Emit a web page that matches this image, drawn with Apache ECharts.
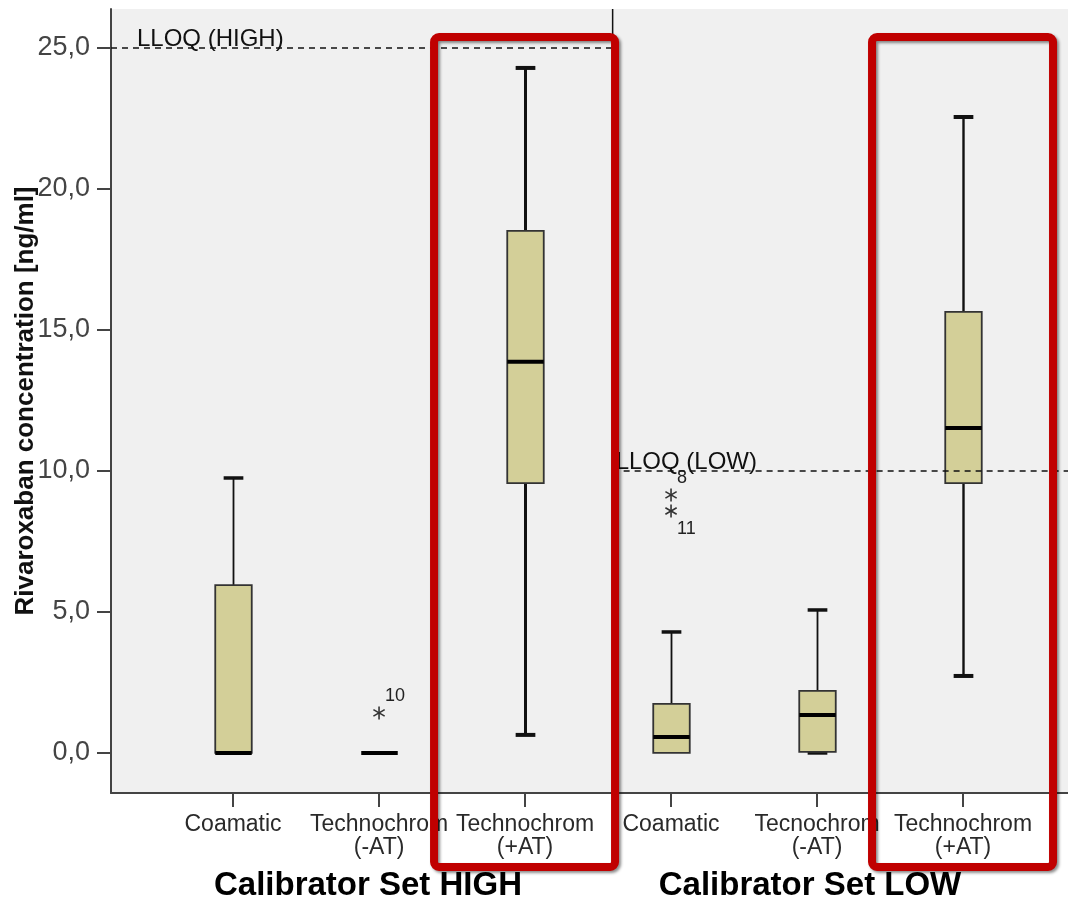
<!DOCTYPE html>
<html>
<head>
<meta charset="UTF-8">
<title>Rivaroxaban concentration</title>
<script src="https://cdn.jsdelivr.net/npm/echarts@6/dist/echarts.min.js"></script>
<style>
    html, body { margin: 0; padding: 0; background: #fff; }
    #main { width: 1068px; height: 901px; }
</style>
</head>
<body>
<div id="main"></div>
<script>
    // categories along the x axis (index 0..5)
    var categories = ['Coamatic', 'Technochrom\n(-AT)', 'Technochrom\n(+AT)', 'Coamatic', 'Tecnochrom\n(-AT)', 'Technochrom\n(+AT)'];
    // [lower whisker, Q1, median, Q3, upper whisker]
    var boxValues = [
        [0, 0, 0, 5.95, 9.75],
        [0, 0, 0, 0, 0],
        [0.64, 9.57, 13.87, 18.51, 24.29],
        [0, 0, 0.57, 1.74, 4.29],
        [0, 0.04, 1.35, 2.2, 5.07],
        [2.73, 9.57, 11.52, 15.64, 22.55]
    ];
    // [category index, value, case id]
    var outliers = [
        [1, 1.42, '10'],
        [3, 9.15, '8'],
        [3, 8.58, '11']
    ];
    var yTicks = [0, 5, 10, 15, 20, 25];
    var groupNames = ['Calibrator Set HIGH', 'Calibrator Set LOW'];
    var refNames = ['LLOQ (HIGH)', 'LLOQ (LOW)'];
    var refValues = [25, 10];
    var highlighted = [2, 5];

    var groupSplit = 2.6;   // separator between the two calibrator sets (category units)
    var xMin = -0.836, xMax = 5.719;
    var yMin = -1.42, yMax = 26.38;
    var font = "'Liberation Sans', Arial, sans-serif";

    var chart = echarts.init(document.getElementById('main'));

    function renderBox(params, api) {
        var i = api.value(0);
        var lo = api.coord([i, api.value(1)]);
        var q1 = api.coord([i, api.value(2)]);
        var med = api.coord([i, api.value(3)]);
        var q3 = api.coord([i, api.value(4)]);
        var hi = api.coord([i, api.value(5)]);
        var bw = api.size([0.25, 0])[0];
        var cw = api.size([0.135, 0])[0];
        var x = Math.round(q1[0]) + 0.5;
        var strong = highlighted.indexOf(i) >= 0;
        var ww = strong ? (i === 2 ? 3 : 2.4) : 1.8;
        var capW = strong ? 4 : 3.5;
        var kids = [];
        if (q3[1] - hi[1] > 0.5) {
            kids.push({type: 'line', shape: {x1: x, y1: q3[1], x2: x, y2: hi[1]}, style: {stroke: '#111', lineWidth: ww}});
            kids.push({type: 'line', shape: {x1: x - cw / 2, y1: hi[1], x2: x + cw / 2, y2: hi[1]}, style: {stroke: '#111', lineWidth: capW}});
        }
        if (lo[1] - q1[1] > 0.5) {
            kids.push({type: 'line', shape: {x1: x, y1: q1[1], x2: x, y2: lo[1]}, style: {stroke: '#111', lineWidth: ww}});
            kids.push({type: 'line', shape: {x1: x - cw / 2, y1: lo[1], x2: x + cw / 2, y2: lo[1]}, style: {stroke: '#111', lineWidth: capW}});
        }
        if (q1[1] - q3[1] > 0.5) {
            kids.push({type: 'rect', shape: {x: x - bw / 2, y: q3[1], width: bw, height: q1[1] - q3[1]},
                style: {fill: '#D3CF98', stroke: '#333', lineWidth: 1.8}});
        }
        kids.push({type: 'line', shape: {x1: x - bw / 2, y1: med[1], x2: x + bw / 2, y2: med[1]}, style: {stroke: '#000', lineWidth: 4}});
        return {type: 'group', children: kids};
    }

    function renderOutlier(params, api) {
        var i = api.value(0);
        var v = api.value(1);
        var p = api.coord([i, v]);
        var r = 6.5;
        // a higher outlier in the same category pushes this label below
        var below = outliers.some(function (o) { return o[0] === i && o[1] > v; });
        var kids = [];
        for (var k = 0; k < 3; k++) {
            var a = Math.PI / 2 + k * Math.PI / 3;
            kids.push({type: 'line', shape: {
                x1: p[0] - r * Math.cos(a), y1: p[1] - r * Math.sin(a),
                x2: p[0] + r * Math.cos(a), y2: p[1] + r * Math.sin(a)
            }, style: {stroke: '#333', lineWidth: 1.6}});
        }
        kids.push({type: 'text', x: p[0] + 6, y: below ? p[1] + 9 : p[1] - 8,
            style: {text: outliers[params.dataIndex][2], font: '18px ' + font, fill: '#222',
                verticalAlign: below ? 'top' : 'bottom', align: 'left'}});
        return {type: 'group', children: kids};
    }

    var option = {
        animation: false,
        backgroundColor: '#fff',
        grid: {
            left: 111, right: 0, top: 9, bottom: 108,
            outerBoundsMode: 'none', containLabel: false,
            show: true, backgroundColor: '#F0F0F0', borderWidth: 0
        },
        xAxis: {
            type: 'value', min: xMin, max: xMax,
            splitLine: {show: false},
            axisLine: {show: true, onZero: false, lineStyle: {color: '#444', width: 2}},
            axisTick: {show: true, length: 14, customValues: categories.map(function (c, i) { return i; }),
                lineStyle: {color: '#444', width: 2}},
            axisLabel: {
                customValues: categories.map(function (c, i) { return i; }),
                formatter: function (v) { return categories[Math.round(v)]; },
                margin: 20, fontSize: 23, lineHeight: 23, color: '#2a2a2a', fontFamily: font
            }
        },
        yAxis: {
            type: 'value', min: yMin, max: yMax,
            name: 'Rivaroxaban concentration [ng/ml]',
            nameLocation: 'middle', nameGap: 72, nameMoveOverlap: false,
            nameTextStyle: {fontSize: 26, fontWeight: 'bold', color: '#111', fontFamily: font},
            splitLine: {show: false},
            axisLine: {show: true, onZero: false, lineStyle: {color: '#444', width: 2}},
            axisTick: {show: true, length: 14, customValues: yTicks, lineStyle: {color: '#444', width: 2}},
            axisLabel: {
                customValues: yTicks,
                formatter: function (v) { return v.toFixed(1).replace('.', ','); },
                margin: 21, fontSize: 27, color: '#444', fontFamily: font
            }
        },
        series: [
            {
                type: 'line', symbol: 'none', silent: true,
                data: [[groupSplit, yMin], [groupSplit, yMax]],
                lineStyle: {color: '#111', width: 1.5}
            },
            {
                type: 'line', symbol: 'none', silent: true,
                data: [[xMin, refValues[0]], [groupSplit, refValues[0]]],
                lineStyle: {color: '#111', width: 1.5, type: [6, 5]}
            },
            {
                type: 'line', symbol: 'none', silent: true,
                data: [[groupSplit, refValues[1]], [xMax, refValues[1]]],
                lineStyle: {color: '#111', width: 1.5, type: [6, 5]}
            },
            {
                type: 'custom', renderItem: renderBox,
                encode: {x: 0, y: [1, 2, 3, 4, 5]},
                data: boxValues.map(function (b, i) { return [i].concat(b); })
            },
            {
                type: 'custom', renderItem: renderOutlier,
                encode: {x: 0, y: 1},
                data: outliers.map(function (o) { return [o[0], o[1]]; })
            }
        ]
    };
    chart.setOption(option);

    // annotations placed from the axis scales
    var graphics = [];
    var refStart = [xMin, groupSplit];
    var refDx = [26, 3];
    refNames.forEach(function (name, k) {
        var p = chart.convertToPixel({gridIndex: 0}, [refStart[k], refValues[k]]);
        graphics.push({type: 'text', x: p[0] + refDx[k], y: p[1] + 3, z: 10,
            style: {text: name, font: '24px ' + font, fill: '#111', verticalAlign: 'bottom'}});
    });
    highlighted.forEach(function (i) {
        var c = chart.convertToPixel({gridIndex: 0}, [i, 0]);
        graphics.push({type: 'rect', z: 100,
            shape: {x: c[0] - 91, y: 37, width: 181, height: 830, r: 5},
            style: {fill: 'none', stroke: '#C00000', lineWidth: 8,
                shadowBlur: 3, shadowColor: 'rgba(0,0,0,0.45)', shadowOffsetX: 2, shadowOffsetY: 2}});
    });
    var groupCenters = [368, 810];
    groupNames.forEach(function (name, k) {
        graphics.push({type: 'text', x: groupCenters[k], y: 886, z: 10,
            style: {text: name, font: 'bold 33px ' + font, fill: '#000', align: 'center', verticalAlign: 'middle'}});
    });
    chart.setOption({graphic: graphics});
</script>
</body>
</html>
